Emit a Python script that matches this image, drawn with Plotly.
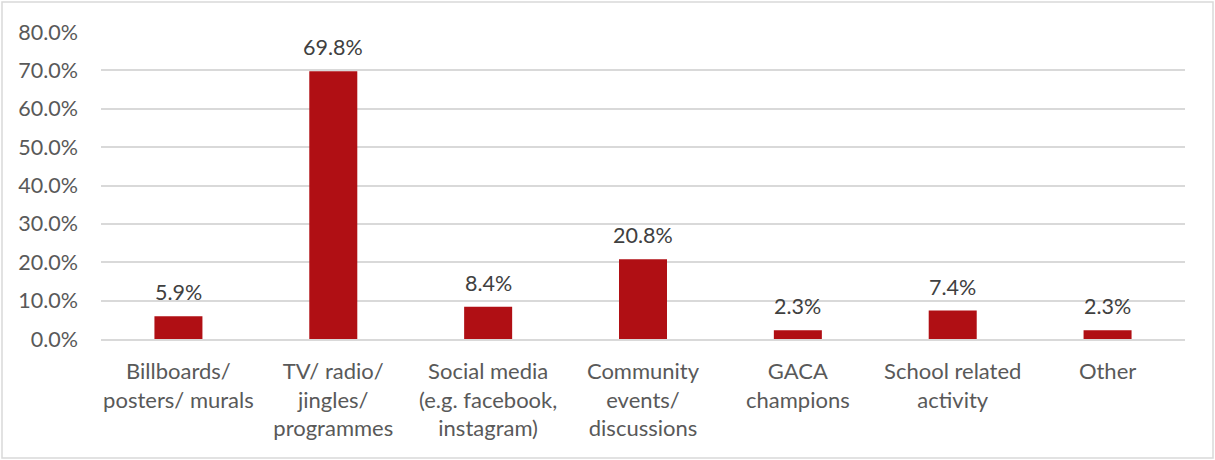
import plotly.graph_objects as go

categories = [
    "Billboards/<br>posters/ murals",
    "TV/ radio/<br>jingles/<br>programmes",
    "Social media<br>(e.g. facebook,<br>instagram)",
    "Community<br>events/<br>discussions",
    "GACA<br>champions",
    "School related<br>activity",
    "Other",
]
values = [5.9, 69.8, 8.4, 20.8, 2.3, 7.4, 2.3]
tick_vals = [0, 10, 20, 30, 40, 50, 60, 70, 80]
tick_text = ["0.0%", "10.0%", "20.0%", "30.0%", "40.0%", "50.0%", "60.0%", "70.0%", "80.0%"]

fig = go.Figure(
    go.Bar(
        x=categories,
        y=values,
        marker=dict(color="#B00F14", line=dict(width=0)),
        cliponaxis=False,
        hoverinfo="x+y",
    )
)

for c, v in zip(categories, values):
    fig.add_annotation(
        x=c, y=v, xref="x", yref="y",
        text=f"{v:.1f}%",
        showarrow=False,
        yanchor="bottom",
        yshift=9,
        font=dict(family="Lato", size=21.5, color="#404040"),
    )

fig.update_layout(
    width=1215,
    height=460,
    margin=dict(l=101, r=30, t=32, b=121, autoexpand=False),
    paper_bgcolor="white",
    plot_bgcolor="white",
    bargap=0.69,
    showlegend=False,
    font=dict(family="Lato", size=21.5, color="#595959"),
    shapes=[
        dict(
            type="rect", xref="paper", yref="paper",
            x0=-99 / 1084, x1=1 + 28 / 1084, y0=-119 / 307, y1=1 + 30 / 307,
            line=dict(color="#d9d9d9", width=1.5), fillcolor="rgba(0,0,0,0)",
        )
    ],
)
fig.update_yaxes(
    range=[0, 80],
    tickvals=tick_vals,
    ticktext=tick_text,
    showgrid=True,
    gridcolor="#d9d9d9",
    gridwidth=1.5,
    zeroline=False,
    showline=False,
    ticks="",
    automargin=False,
    ticklabelstandoff=22,
    tickfont=dict(family="Lato", size=21.5, color="#595959"),
)
fig.update_xaxes(
    showline=True,
    linecolor="#d9d9d9",
    linewidth=1.5,
    ticks="",
    automargin=False,
    ticklabelstandoff=12,
    tickfont=dict(family="Lato", size=22, color="#595959"),
    tickangle=0,
)

fig.write_html(
    "out.html",
    config={"displayModeBar": False},
    post_script="document.body.style.margin='0';document.body.style.overflow='hidden';",
)
